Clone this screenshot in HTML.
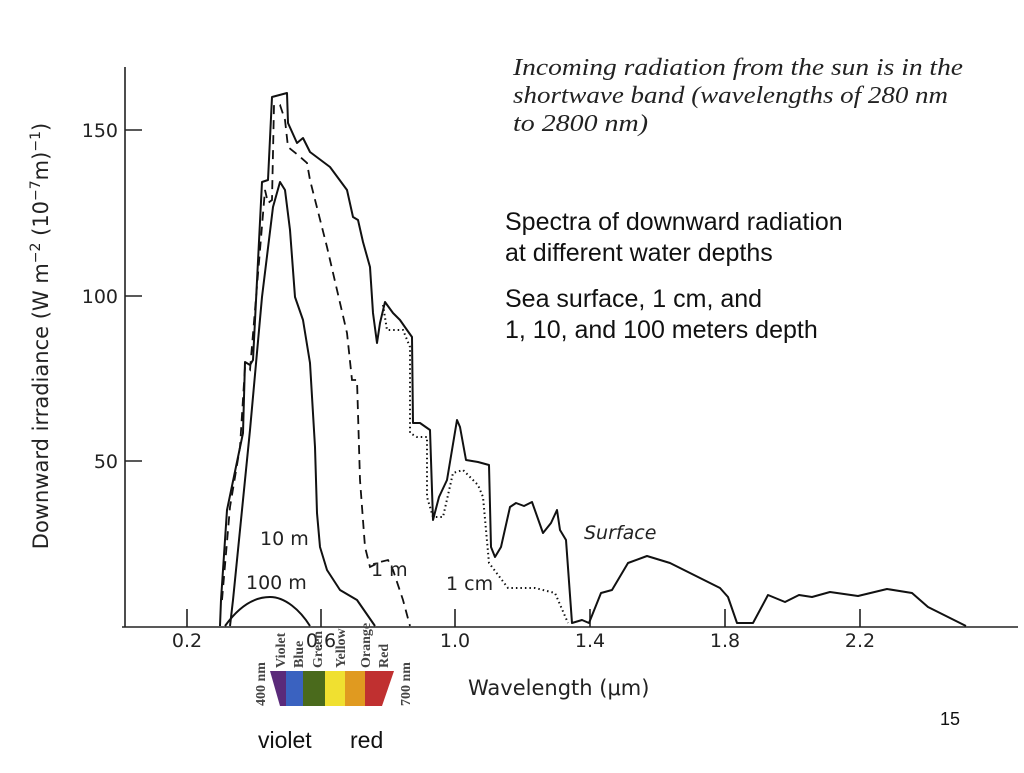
<!DOCTYPE html>
<html><head><meta charset="utf-8"><style>
body{margin:0;background:#fff;width:1024px;height:768px;overflow:hidden;}
</style></head><body>
<svg width="1024" height="768" viewBox="0 0 1024 768" xmlns="http://www.w3.org/2000/svg">
<g stroke="#222" stroke-width="1.6" fill="none">
<line x1="125" y1="67" x2="125" y2="627"/>
<line x1="122" y1="627" x2="1018" y2="627"/>
<line x1="125" y1="130" x2="142" y2="130"/>
<line x1="125" y1="296" x2="142" y2="296"/>
<line x1="125" y1="461" x2="142" y2="461"/>
<line x1="187" y1="627" x2="187" y2="609"/>
<line x1="321" y1="627" x2="321" y2="609"/>
<line x1="455" y1="627" x2="455" y2="609"/>
<line x1="590" y1="627" x2="590" y2="609"/>
<line x1="725" y1="627" x2="725" y2="609"/>
<line x1="860" y1="627" x2="860" y2="609"/>
</g>
<g stroke="#111" stroke-width="2" fill="none" stroke-linejoin="round">
<polyline points="220,626 221,600 227,510 243,433 245,362 250,365 253,360 262,182 268,180 272,97 287,93 288,123 297,143 303,138 310,152 330,167 347,190 353,217 358,220 363,242 370,267 373,313 377,343 380,323 385,302 393,313 400,320 407,330 412,337 413,423 420,423 430,430 433,520 439,497 447,480 457,420 460,427 466,460 478,462 489,465 491,547 495,557 501,547 510,507 516,503 524,506 532,502 543,533 551,523 557,510 560,530 566,540 572,623 582,620 589,623 601,593 612,590 628,563 647,556 670,563 720,588 728,597 737,623 753,623 768,595 785,602 799,595 812,597 830,592 858,596 887,589 912,593 928,607 966,626"/>
<polyline points="230,626 233,600 250,430 262,297 273,207 280,182 285,190 290,230 295,297 303,320 310,363 315,447 317,513 320,547 327,570 340,590 357,600 375,626"/>
<path d="M225,626 C240,605 255,597 270,597 C285,597 300,610 310,626"/>
</g>
<polyline stroke="#111" stroke-width="1.8" fill="none" stroke-dasharray="9,6" points="222,600 230,507 240,447 245,367 250,370 265,190 268,203 272,200 274,105 280,105 285,120 288,147 298,155 307,163 310,180 327,247 347,333 352,380 357,380 360,480 365,547 370,567 380,562 388,560 393,570 403,600 410,626"/>
<polyline stroke="#111" stroke-width="2" fill="none" stroke-dasharray="1.5,3" points="383,305 387,330 403,330 410,347 410,433 417,437 427,437 427,497 433,517 443,517 453,473 463,470 478,485 483,497 489,563 508,588 535,588 555,593 568,623"/>
<g font-family="DejaVu Sans, sans-serif" fill="#222" font-size="19">
<text x="118" y="137" text-anchor="end">150</text>
<text x="118" y="303" text-anchor="end">100</text>
<text x="118" y="468" text-anchor="end">50</text>
<text x="187" y="647" text-anchor="middle">0.2</text>
<text x="321" y="647" text-anchor="middle">0.6</text>
<text x="455" y="647" text-anchor="middle">1.0</text>
<text x="590" y="647" text-anchor="middle">1.4</text>
<text x="725" y="647" text-anchor="middle">1.8</text>
<text x="860" y="647" text-anchor="middle">2.2</text>
<text x="468" y="695" font-size="21">Wavelength (μm)</text>
<text transform="translate(48,336) rotate(-90)" text-anchor="middle" font-size="21">Downward irradiance (W m<tspan dy="-8" font-size="14">−2</tspan><tspan dy="8"> (10</tspan><tspan dy="-8" font-size="14">−7</tspan><tspan dy="8">m)</tspan><tspan dy="-8" font-size="14">−1</tspan><tspan dy="8">)</tspan></text>
<text x="260" y="545" font-size="19">10 m</text>
<text x="246" y="589" font-size="19">100 m</text>
<text x="371" y="576" font-size="19">1 m</text>
<text x="446" y="590" font-size="19">1 cm</text>
<text x="584" y="539" font-size="19" font-style="italic">Surface</text>
</g>
<g font-family="Liberation Serif, serif" font-style="italic" font-size="24" fill="#222">
<text x="513" y="75" textLength="450" lengthAdjust="spacingAndGlyphs">Incoming radiation from the sun is in the</text>
<text x="513" y="103" textLength="435" lengthAdjust="spacingAndGlyphs">shortwave band (wavelengths of 280 nm</text>
<text x="513" y="131" textLength="135" lengthAdjust="spacingAndGlyphs">to 2800 nm)</text>
</g>
<g font-family="Liberation Sans, sans-serif" font-size="25" fill="#111">
<text x="505" y="230">Spectra of downward radiation</text>
<text x="505" y="261">at different water depths</text>
<text x="505" y="307">Sea surface, 1 cm, and</text>
<text x="505" y="338">1, 10, and 100 meters depth</text>
<text x="258" y="748" font-size="23">violet</text>
<text x="350" y="748" font-size="23">red</text>
<text x="940" y="725" font-size="18">15</text>
</g>
<g>
<path d="M270,671 H286 V706 H280 Z" fill="#5a2a7a"/>
<rect x="286" y="671" width="17" height="35" fill="#3a62c0"/>
<rect x="303" y="671" width="22" height="35" fill="#4a6a1c"/>
<rect x="325" y="671" width="20" height="35" fill="#f0e030"/>
<rect x="345" y="671" width="20" height="35" fill="#e09a20"/>
<path d="M365,671 H394 L382,706 H365 Z" fill="#c03030"/>
</g>
<g font-family="Liberation Serif, serif" font-size="14" fill="#444" font-weight="bold">
<text transform="translate(265,706) rotate(-90)">400 nm</text>
<text transform="translate(285,668) rotate(-90)">Violet</text>
<text transform="translate(303,668) rotate(-90)">Blue</text>
<text transform="translate(322,668) rotate(-90)">Green</text>
<text transform="translate(345,668) rotate(-90)">Yellow</text>
<text transform="translate(370,668) rotate(-90)">Orange</text>
<text transform="translate(388,668) rotate(-90)">Red</text>
<text transform="translate(410,706) rotate(-90)">700 nm</text>
</g>
</svg>
</body></html>
